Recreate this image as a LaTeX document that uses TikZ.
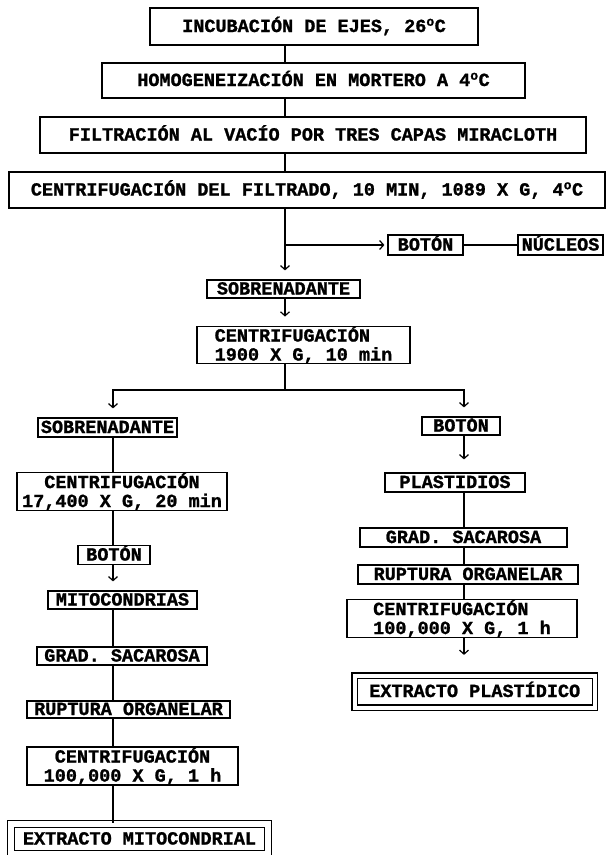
\documentclass[tikz,border=0pt]{standalone}
\usepackage{fontspec}
\newfontfamily\cajafont[BoldFeatures={FakeBold=1.2}]{Liberation Mono}
\usetikzlibrary{arrows.meta}

\begin{document}
\begin{tikzpicture}[x=1pt,y=-1pt]
     \tikzstyle{paso}=[draw, line width=1.2pt, inner xsep=2pt, inner ysep=0pt, font=\cajafont\bfseries\fontsize{18.5}{19}\selectfont]
     \tikzstyle{caja}=[paso, text height=11pt, text depth=0pt]
     \tikzstyle{doble}=[caja, double, double distance=4pt]
     \tikzstyle{linea}=[draw, line width=1.2pt]
     \tikzstyle{flecha}=[linea, -{Straight Barb[length=4pt,width=9pt]}, shorten >=9pt]

     \fill[white] (0,0) rectangle (606,855);
     \useasboundingbox (0,0) rectangle (606,855);

     % columnas
     \coordinate (tronco) at (285,0);
     \coordinate (colI) at (113,390);
     \coordinate (colD) at (464,390);

     % tronco comun
     \node[caja, minimum width=328, minimum height=37] (incub) at (314,26.5) {INCUBACIÓN DE EJES, 26\textsuperscript{o}C};
     \node[caja, minimum width=423, minimum height=35] (homog) at (313.5,80.5) {HOMOGENEIZACIÓN EN MORTERO A 4\textsuperscript{o}C};
     \node[caja, minimum width=546, minimum height=36] (filtr) at (313,135) {FILTRACIÓN AL VACÍO POR TRES CAPAS MIRACLOTH};
     \node[caja, minimum width=596, minimum height=36] (centA) at (307,190) {CENTRIFUGACIÓN DEL FILTRADO, 10 MIN, 1089 X G, 4\textsuperscript{o}C};
     \node[caja, minimum width=75, minimum height=20] (botonA) at (425.5,245) {BOTÓN};
     \node[caja, minimum width=85, minimum height=20] (nucleos) at (560.5,245) {NÚCLEOS};
     \node[caja, minimum width=153, minimum height=18] (sobA) at (283.5,289) {SOBRENADANTE};
     \node[paso, minimum width=213, minimum height=36, align=left] (centB) at (303.5,345) {CENTRIFUGACIÓN\\1900 X G, 10 min};

     % mitocondrias
     \node[caja, minimum width=139, minimum height=19] (sobB) at (107.5,427.5) {SOBRENADANTE};
     \node[paso, minimum width=210, minimum height=37, align=center] (centC) at (122,491.5) {CENTRIFUGACIÓN\\17,400 X G, 20 min};
     \node[caja, minimum width=72, minimum height=19] (botonB) at (114,555) {BOTÓN};
     \node[caja, minimum width=149, minimum height=18] (mitoc) at (122.5,600) {MITOCONDRIAS};
     \node[caja, minimum width=170, minimum height=18] (gradI) at (122,656) {GRAD. SACAROSA};
     \node[caja, minimum width=203, minimum height=17] (ruptI) at (128.5,709.5) {RUPTURA ORGANELAR};
     \node[paso, minimum width=211, minimum height=38, align=center] (centD) at (132.5,766) {CENTRIFUGACIÓN\\100,000 X G, 1 h};
     \node[doble, double distance=6pt, minimum width=257, minimum height=30] (extM) at (139.5,839) {EXTRACTO MITOCONDRIAL};

     % plastidios
     \node[caja, minimum width=78, minimum height=18] (botonC) at (461,426) {BOTÓN};
     \node[caja, minimum width=140, minimum height=19] (plast) at (455,482.5) {PLASTIDIOS};
     \node[caja, minimum width=207, minimum height=19] (gradD) at (463.5,537.5) {GRAD. SACAROSA};
     \node[caja, minimum width=220, minimum height=19] (ruptD) at (468,574.5) {RUPTURA ORGANELAR};
     \node[paso, minimum width=230, minimum height=37, align=left] (centE) at (462,618.5) {CENTRIFUGACIÓN\\100,000 X G, 1 h};
     \node[doble, minimum width=240.5, minimum height=32] (extP) at (474.75,691.5) {EXTRACTO PLASTÍDICO};

     \draw[linea] (incub.south -| tronco) -- (homog.north -| tronco);
     \draw[linea] (homog.south -| tronco) -- (filtr.north -| tronco);
     \draw[linea] (filtr.south -| tronco) -- (centA.north -| tronco);
     \draw[flecha] (centA.south -| tronco) -- (sobA.north -| tronco);
     \draw[flecha, shorten >=3pt] (tronco |- botonA) -- (botonA.west);
     \draw[linea] (botonA) -- (nucleos);
     \draw[flecha] (sobA.south -| tronco) -- (centB.north -| tronco);
     \draw[flecha] (centB.south -| tronco) |- (colI) -- (sobB.north -| colI);
     \draw[flecha] (tronco |- colD) -- (colD) -- (botonC.north -| colD);

     \draw[linea] (sobB.south -| colI) -- (centC.north -| colI);
     \draw[linea] (centC.south -| colI) -- (botonB.north -| colI);
     \draw[flecha] (botonB.south -| colI) -- (mitoc.north -| colI);
     \draw[linea] (mitoc.south -| colI) -- (gradI.north -| colI);
     \draw[linea] (gradI.south -| colI) -- (ruptI.north -| colI);
     \draw[linea] (ruptI.south -| colI) -- (centD.north -| colI);
     \draw[linea] (centD.south -| colI) -- (extM.north -| colI);

     \draw[flecha, shorten >=13pt] (botonC.south -| colD) -- (plast.north -| colD);
     \draw[linea] (plast.south -| colD) -- (gradD.north -| colD);
     \draw[linea] (gradD.south -| colD) -- (ruptD.north -| colD);
     \draw[linea] (ruptD.south -| colD) -- (centE.north -| colD);
     \draw[flecha, shorten >=20pt] (centE.south -| colD) -- (extP.north -| colD);
\end{tikzpicture}
\end{document}
